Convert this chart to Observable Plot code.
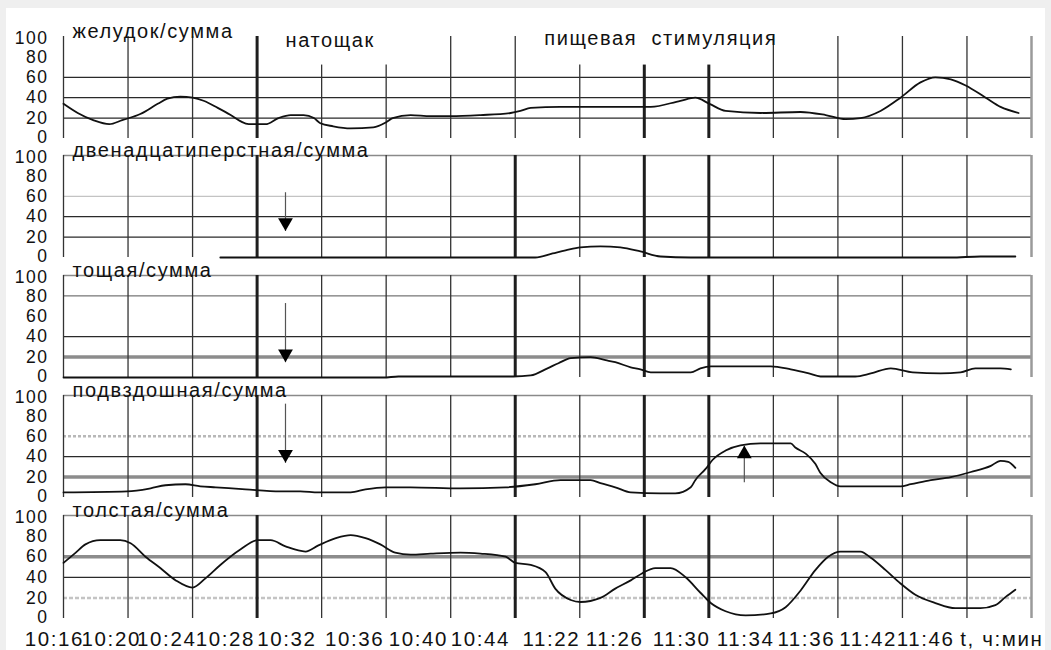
<!DOCTYPE html>
<html><head><meta charset="utf-8">
<script src="https://cdn.jsdelivr.net/npm/d3@7"></script>
<script src="https://cdn.jsdelivr.net/npm/@observablehq/plot@0.6"></script>
<style>
body{margin:0;background:#efefef;}
#wrap{position:relative;width:1051px;height:650px;overflow:hidden;font-family:"Liberation Sans",Arial,sans-serif;}
#paper{position:absolute;left:6px;top:8px;width:1039px;height:642px;background:#fff;}
.panel{position:absolute;left:0;}
.panel svg{overflow:visible;}
.panel text{letter-spacing:1.6px;}
.panel g[aria-label="y-axis tick label"] text{letter-spacing:1.5px;}
</style></head><body><div id="wrap"><div id="paper"></div></div>
<script>
// ---- data ----
const panelTitles = ["желудок/сумма","двенадцатиперстная/сумма","тощая/сумма","подвздошная/сумма","толстая/сумма"];
const tickLabels = ["10:16","10:20","10:24","10:28","10:32","10:36","10:40","10:44","11:22","11:26","11:30","11:34","11:36","11:42","11:46","t, ч:мин"];
const tickPos = [-0.14,0.74,1.60,2.51,3.46,4.51,5.50,6.46,7.56,8.54,9.58,10.57,11.51,12.47,13.36,14.54];
const yTicksMid = [20,40,60,80];
const yTickTop = [100];
const yTickBottom = [0];
const gridIdx = [0,1,2,3,4,5,6,7,8,9,10,11,12,13,14];

const stomachT = [0,0.22,0.46,0.71,0.91,1.19,1.46,1.61,1.81,2.00,2.17,2.39,2.59,2.74,2.87,3.13,3.33,3.52,3.72,3.88,3.98,4.18,4.45,4.80,5.00,5.10,5.38,5.69,6.00,6.46,6.93,7.08,7.24,7.70,8.32,9.10,9.56,9.79,10.01,10.26,10.80,11.42,11.81,12.12,12.35,12.66,12.97,13.28,13.51,13.75,13.98,14.29,14.52,14.80];
const stomachV = [34,25,18,14,18,24,34,39,41,40,37,30,23,17,14,14,20,23,23,20,15,12,10,11,16,20,23,22,22,23,25,27,30,31,31,31,37,40,34,27,25,26,23,19,20,27,40,55,60,58,52,40,31,25];

const duodenumT = [2.43,7.00,7.31,7.58,7.78,8.01,8.32,8.63,8.94,9.25,9.72,12.74,13.75,14.21,14.75];
const duodenumV = [0,0,0,4,7,10,11,10,6,1,0,0,0,1,1];

const jejunumT = [0,3.67,3.95,4.96,5.19,6.20,6.97,7.24,7.50,7.67,7.86,8.17,8.40,8.55,8.79,8.94,9.10,9.72,9.87,10.03,10.96,11.27,11.55,11.73,12.27,12.51,12.82,13.16,13.59,13.90,14.13,14.52,14.68];
const jejunumV = [0,0,0,0,1,1,1,2,9,14,19,20,17,15,10,8,5,5,9,11,11,8,4,1,1,4,9,5,4,5,9,9,8];

const ileumT = [0,0.99,1.35,1.58,1.89,2.12,2.36,2.82,3.36,3.67,3.95,4.45,4.68,4.99,5.38,6.15,6.85,7.31,7.70,8.17,8.32,8.55,8.79,9.25,9.48,9.72,9.79,9.95,10.06,10.26,10.49,10.80,11.27,11.34,11.50,11.65,11.73,11.89,12.04,12.97,13.13,13.44,13.75,14.06,14.37,14.52,14.64,14.75];
const ileumV = [5,6,9,12,13,11,10,8,6,6,5,5,8,10,10,9,10,13,17,17,14,10,5,4,4,10,17,28,37,46,51,53,53,49,43,33,24,15,11,11,13,17,20,25,31,36,35,29];

const colonT = [0,0.19,0.34,0.57,0.88,1.04,1.27,1.50,1.74,2.00,2.20,2.43,2.74,3.01,3.21,3.44,3.75,3.95,4.22,4.45,4.68,4.91,5.14,5.38,5.69,6.15,6.46,6.85,7.00,7.24,7.47,7.62,7.86,8.01,8.32,8.55,8.79,8.97,9.17,9.41,9.64,9.87,10.03,10.26,10.57,10.96,11.19,11.42,11.65,11.85,12.04,12.35,12.51,12.74,12.97,13.20,13.51,13.82,14.21,14.44,14.60,14.75];
const colonV = [54,64,72,76,76,73,60,49,37,30,39,52,67,76,76,70,65,71,78,81,78,72,64,62,63,64,63,60,54,52,45,29,18,16,20,29,37,44,49,49,40,25,15,7,3,5,11,27,47,60,65,65,59,47,34,23,15,10,10,13,21,28];

const phaseLabels = ["натощак","пищевая  стимуляция"];
const phaseT = [3.44,7.45];
const phaseV = [96,98];

// arrows: panel index, time, start value, tip value
const arrowPanel = [1,2,3,3];
const arrowT = [3.44,3.44,3.44,10.55];
const arrowFrom = [64,73,92,15];
const arrowTip = [26,15,34,51];

// ---- layout / styles ----
const panelTop = [36,155,275,395,515];
const panelBottom = [138,257,377,497,618];
const lineStyles = {
  dark:{stroke:"#2a2a2a",strokeWidth:1.2},
  gray:{stroke:"#8a8a8a",strokeWidth:1.5},
  faint:{stroke:"#b4b4b4",strokeWidth:1},
  mid:{stroke:"#555",strokeWidth:1},
  thick:{stroke:"#8c8c8c",strokeWidth:3.5},
  dotted:{stroke:"#b8b8b8",strokeWidth:2.5,strokeDasharray:"3,2"},
  faint2:{stroke:"#c4c4c4",strokeWidth:2.5,strokeDasharray:"4,2"}
};
const zip = (T,V) => T.map((t,i)=>({t, v:V[i]}));
const panels = [
  {data: zip(stomachT,stomachV), hlines:{dark:[60,40,20]}, thick:[3,9,10], shortV:[4,5,8,9,10]},
  {data: zip(duodenumT,duodenumV), hlines:{gray:[100],faint:[60],dark:[40,20]}, thick:[3,7,9,10]},
  {data: zip(jejunumT,jejunumV), hlines:{gray:[100],mid:[80],dark:[40],thick:[20]}, thick:[3,7,9,10]},
  {data: zip(ileumT,ileumV), hlines:{gray:[100],dotted:[60],dark:[40],thick:[20]}, thick:[3,7,9,10]},
  {data: zip(colonT,colonV), hlines:{gray:[100],thick:[60],dark:[40],faint2:[20]}, thick:[3,7,9,10]}
];
const arrows = arrowPanel.map((p,i)=>({p, t:arrowT[i], from:arrowFrom[i], tip:arrowTip[i]}));
const wrap = document.getElementById("wrap");

panels.forEach((p, idx) => {
  const T = panelTop[idx], B = panelBottom[idx];
  const mt = 30, mb = idx === 4 ? 36 : 8;
  const marks = [];
  for (const [style, levels] of Object.entries(p.hlines)) marks.push(Plot.ruleY(levels, lineStyles[style]));
  const vy2 = d => (p.shortV && p.shortV.includes(d)) ? 72 : 100;
  marks.push(Plot.ruleX(gridIdx.filter(d => !p.thick.includes(d)), {x: d=>d, y1: 0, y2: vy2, stroke:"#333", strokeWidth:1.3}));
  marks.push(Plot.ruleX(p.thick, {x: d=>d, y1: 0, y2: vy2, stroke:"#1e1e1e", strokeWidth:3}));
  marks.push(Plot.ruleX([15], {x: d=>d, y1: 0, y2: 100, stroke:"#9a9a9a", strokeWidth:2.5}));
  marks.push(Plot.line(p.data, {x:"t", y:"v", curve:"monotone-x", stroke:"#111", strokeWidth:1.8}));
  const ar = arrows.filter(a => a.p === idx);
  if (ar.length) {
    marks.push(Plot.link(ar, {x1:"t", x2:"t", y1:"from", y2:"tip", stroke:"#555", strokeWidth:1.2}));
    marks.push(Plot.dot(ar, {x:"t", y:"tip", symbol:"triangle", r:5.5, fill:"#000", stroke:"none",
      rotate: d => d.tip < d.from ? 180 : 0}));
  }
  if (idx === 0) {
    marks.push(Plot.text(phaseLabels, {x:(d,i)=>phaseT[i], y:(d,i)=>phaseV[i], text:d=>d, textAnchor:"start", fontSize:20}));
  }
  const yax = {tickSize:0, tickPadding:15, fontSize:17.5, label:null};
  marks.push(Plot.axisY({...yax, ticks: yTicksMid}));
  marks.push(Plot.axisY({...yax, ticks: yTickTop, dy: 1.5}));
  marks.push(Plot.axisY({...yax, ticks: yTickBottom, dy: -1.5}));
  marks.push(Plot.text([panelTitles[idx]], {frameAnchor:"top-left", textAnchor:"start", lineAnchor:"bottom", dx:9, dy:1, fontSize:20}));
  if (idx === 4) {
    marks.push(Plot.text(tickLabels, {x:(d,i)=>tickPos[i], frameAnchor:"bottom", lineAnchor:"middle", dy:21, fontSize:20.5, text:d=>d}));
  }
  const chart = Plot.plot({
    width: 1051, height: mt + (B - T) + mb,
    marginTop: mt, marginBottom: mb, marginLeft: 63, marginRight: 20,
    x: {domain:[0,15], axis:null},
    y: {domain:[0,100], axis:null},
    style: {background:"transparent", overflow:"visible", fontFamily:"'Liberation Sans', Arial, sans-serif", color:"#111"},
    marks
  });
  const div = document.createElement("div");
  div.className = "panel";
  div.style.top = (T - mt) + "px";
  div.appendChild(chart);
  wrap.appendChild(div);
});

// shift triangle centroids so the tip lands on the value
document.querySelectorAll('.panel g[aria-label="dot"] path').forEach(el => {
  const tr = el.getAttribute("transform") || "";
  const down = /rotate\(180/.test(tr);
  el.setAttribute("transform", tr.replace(/translate\(([^,]+),([^)]+)\)/, (m,x,y)=>`translate(${x},${(+y + (down?-8.5:8.5)).toFixed(2)})`));
});
</script>
</body></html>
